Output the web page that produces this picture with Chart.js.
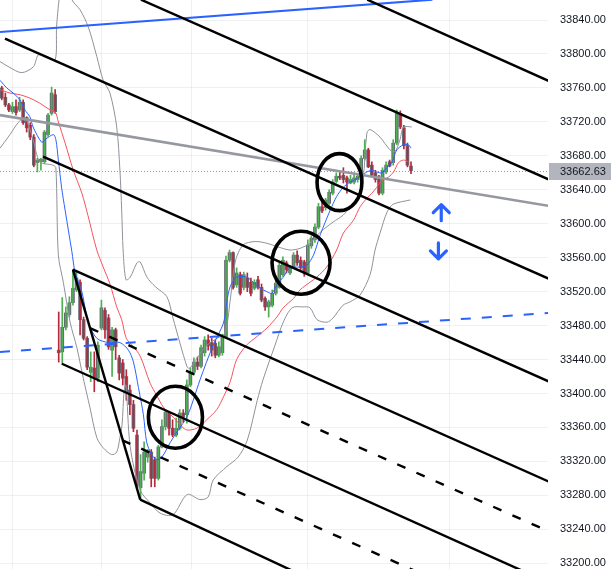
<!DOCTYPE html>
<html>
<head>
<meta charset="utf-8">
<script src="https://cdn.jsdelivr.net/npm/chart.js@4.4.0/dist/chart.umd.min.js"></script>
<style>
  html, body { margin: 0; padding: 0; background: #ffffff; }
  #wrap { width: 614px; height: 569px; }
</style>
</head>
<body>
<div id="wrap"><canvas id="myChart" width="614" height="569"></canvas></div>
<script>
// one value per bar
let opens = [33760,33749,33740,33732,33738,33734,33743,33725,33716,33702,33672,33673,33673,33705,33730,33752,
  33451,33449,33478,33493,33507,33522,33531,33487,33465,33425,33430,33418,33477,33498,33489,33451,33475,33442,33436,33420,
  33404,33387,33351,33289,33306,33325,33331,33322,33300,33337,33361,33377,33359,33351,33359,33377,33375,33410,33425,33437,
  33432,33448,33463,33460,33459,33445,33448,33467,33557,33566,33528,33540,33525,33536,33531,33524,33534,33525,33512,33502,
  33504,33518,33525,33540,33554,33542,33549,33563,33557,33555,33542,33574,33581,33596,33620,33619,33624,33636,33650,33656,
  33657,33654,33648,33649,33652,33655,33677,33687,33669,33660,33655,33636,33661,33673,33672,33695,33730,33713,33692,33668];
let highs = [33762,33754,33742,33743,33746,33749,33746,33726,33719,33705,33677,33677,33710,33730,33761,33758,
  33496,33513,33502,33514,33546,33543,33534,33490,33467,33449,33449,33461,33510,33501,33493,33478,33477,33445,33440,33428,
  33410,33392,33357,33328,33343,33334,33334,33325,33339,33369,33381,33379,33369,33371,33381,33381,33416,33430,33442,33443,
  33457,33467,33469,33465,33463,33461,33470,33562,33569,33567,33548,33543,33543,33542,33536,33534,33538,33529,33514,33510,
  33522,33534,33554,33561,33556,33551,33566,33568,33561,33557,33581,33586,33600,33624,33628,33630,33640,33652,33660,33663,
  33666,33656,33657,33660,33659,33680,33699,33689,33673,33663,33657,33666,33673,33675,33699,33734,33733,33716,33695,33673];
let lows = [33746,33738,33732,33730,33728,33732,33717,33708,33699,33667,33661,33663,33671,33703,33728,33730,
  33437,33434,33475,33490,33504,33520,33469,33463,33428,33414,33402,33414,33475,33465,33452,33420,33440,33416,33410,33392,
  33375,33355,33289,33275,33298,33319,33290,33290,33298,33336,33357,33351,33349,33349,33357,33366,33365,33408,33422,33428,
  33430,33444,33451,33444,33442,33443,33445,33465,33555,33523,33525,33516,33522,33520,33515,33522,33523,33508,33498,33490,
  33502,33516,33524,33538,33542,33540,33547,33551,33546,33538,33540,33571,33578,33594,33613,33616,33622,33634,33648,33652,
  33648,33636,33647,33647,33649,33654,33675,33666,33655,33649,33634,33634,33659,33667,33669,33693,33712,33688,33667,33659];
let closes = [33748,33740,33734,33738,33731,33743,33719,33713,33702,33669,33675,33676,33708,33728,33754,33732,
  33448,33478,33495,33507,33524,33536,33487,33465,33431,33431,33419,33457,33501,33475,33455,33475,33455,33424,33418,33401,
  33387,33359,33292,33308,33331,33331,33300,33300,33337,33361,33378,33359,33351,33359,33377,33372,33410,33425,33437,33432,
  33454,33463,33456,33451,33445,33455,33467,33557,33566,33525,33542,33518,33540,33525,33518,33531,33525,33510,33502,33508,
  33518,33530,33551,33557,33546,33549,33563,33554,33548,33542,33575,33583,33596,33620,33615,33628,33637,33649,33656,33654,
  33652,33649,33652,33654,33656,33677,33687,33667,33657,33652,33636,33663,33669,33668,33695,33730,33714,33692,33669,33662.63];

let lastPrice = 33662.63;

// indicator lines as [bar, price]
let blueMA = [[-0.5,33769],[1.4,33760],[3.2,33754],[5.1,33746],[6.5,33734],[7.9,33726],[8.8,33714],[11.2,33696],
  [12.1,33699],[14.5,33705],[15.2,33699],[15.9,33675],[16.8,33643],[17.8,33616],[19.7,33567],[20.6,33543],[22.5,33520],
  [24.3,33484],[26.7,33465],[30,33460],[33.2,33460],[35.6,33451],[37,33437],[38.4,33407],[39.8,33375],[40.7,33343],
  [42.1,33328],[43.5,33322],[45,33325],[47.3,33342],[49.6,33357],[52,33372],[53.8,33392],[55.7,33416],[59.4,33457],
  [62.3,33483],[63.2,33507],[64.2,33526],[66,33537],[68.8,33537],[70.7,33531],[72.6,33524],[74.5,33520],[75.9,33518],
  [77.3,33528],[79.1,33537],[81,33548],[83.8,33549],[85.7,33551],[87.6,33563],[89.5,33587],[92.3,33616],[94.1,33632],
  [96,33643],[97.9,33649],[99.8,33653],[101.2,33657],[102.6,33661],[104,33663],[105.4,33661],[106.8,33660],[108.2,33666],
  [109.6,33672],[111,33687],[112.9,33693],[114.3,33693],[115,33689]];
let redMA = [[-0.5,33758],[2.3,33754],[5.1,33752],[7.9,33748],[10.7,33742],[13.6,33734],[15,33732],[15.9,33720],
  [17.8,33695],[20.1,33663],[22.5,33636],[24.2,33610],[26.7,33569],[28.5,33549],[30.4,33529],[32.3,33502],[33.7,33487],
  [35,33465],[37,33455],[38.9,33444],[41.7,33412],[43.5,33398],[45.4,33384],[48.2,33372],[50.6,33361],[52,33357],
  [54.8,33359],[57.6,33369],[60.4,33381],[62.3,33396],[64.2,33414],[66,33440],[68.8,33457],[71.7,33467],[74.5,33477],
  [77.3,33490],[79.1,33501],[82,33512],[83.8,33522],[86.6,33531],[88.5,33537],[91.3,33549],[94.1,33569],[96,33589],
  [98.8,33604],[100.7,33620],[102.6,33630],[104,33636],[105.4,33643],[106.8,33651],[108.7,33655],[110.1,33661],
  [111.5,33672],[112.9,33675],[114.3,33673]];
let bandUpper = [[-0.5,33791],[2.3,33784],[5.6,33778],[8.9,33785],[10.3,33799],[12.7,33797],[15,33793],[15.4,33832],
  [16.1,33864],[17.2,33895],[18.6,33890],[19.7,33864],[22,33852],[24.3,33832],[26.7,33797],[28.5,33769],[30.4,33754],
  [32.3,33714],[33.2,33663],[33.7,33616],[34.1,33569],[34.9,33534],[36.1,33537],[38,33554],[38.9,33555],[40.8,33537],
  [43.1,33526],[46.4,33514],[48.1,33489],[52.1,33431],[52.9,33430],[54.9,33442],[57.7,33457],[60.5,33465],[62.7,33471],
  [64.2,33510],[65.6,33555],[67.8,33575],[71.2,33579],[74.5,33577],[77.4,33573],[81,33569],[83.8,33571],[86.6,33577],
  [89.5,33590],[93.1,33602],[95.9,33610],[97.9,33620],[99.8,33630],[101.5,33652],[102.6,33707],[103.5,33711],
  [106.3,33702],[109.1,33687],[110.5,33685],[111.9,33699],[112.9,33714],[115.2,33714]];
let bandLower = [[-0.5,33689],[2.3,33705],[4.6,33719],[6.5,33725],[8.8,33699],[10.7,33673],[14.4,33669],[15.2,33666],
  [15.9,33563],[17.3,33531],[19.2,33484],[21.1,33454],[22.9,33418],[24.8,33383],[26.7,33348],[28.5,33336],[30.9,33328],
  [32.3,33331],[33.2,33348],[33.8,33363],[34.4,33404],[34.9,33410],[36.1,33337],[38.9,33286],[41.7,33271],[44.5,33259],
  [48.1,33257],[52.1,33281],[55.7,33275],[58,33278],[59.4,33298],[63.3,33314],[66.4,33325],[69,33345],[71.8,33392],
  [73.4,33416],[76.8,33457],[79.1,33484],[81.6,33501],[84.7,33502],[86.6,33501],[88.6,33487],[91.4,33484],[93.1,33489],
  [95.9,33504],[97.9,33508],[100.7,33516],[103.5,33540],[104.9,33569],[106.3,33589],[108.3,33614],[110,33623],[114.8,33628]];

// drawings: [bar1, price1, bar2, price2]
let channelLines = [[102.7,33864,153.8,33768],[39.1,33864,153.8,33652],[0.9,33818,153.8,33535],
  [11.6,33679,153.8,33414],[20,33546,153.8,33296],[16.9,33435,153.8,33177],[38.9,33275,83.8,33187],
  [20,33546,38.9,33275]];
let dashedLines = [[24.8,33477,151.3,33242],[33.8,33345,120.4,33183]];
let blueLine = [-0.5,33826,121,33864];
let blueDashed = [-0.5,33449,153.8,33495];
let grayLine = [-0.5,33728,153.8,33621];
// ellipses: [bar, price, half width in bars, half height in price]
let circles = [[94.9,33649,6.3,33.6],[84.1,33554,8.15,37.1],[48.8,33372,7.6,36.5]];
let arrows = [[123.5,33613,"up"],[122.7,33568,"down"]];

let yTicks = [33200,33240,33280,33320,33360,33400,33440,33480,33520,33560,33600,33640,33680,33720,33760,33800,33840];
let xGridBars = [15.5,40.5,66,105.7,146.2];

let upColor = "#4caf50";
let downColor = "#b8283b";

function pts(arr) {
  return arr.map((p) => ({ x: p[0], y: p[1] }));
}
function seg(s) {
  return [{ x: s[0], y: s[1] }, { x: s[2], y: s[3] }];
}
function lineSet(data, color, width, dash, order) {
  return {
    type: "line",
    data: data,
    borderColor: color,
    borderWidth: width,
    borderDash: dash || [],
    pointRadius: 0,
    tension: 0,
    fill: false,
    clip: 0,
    order: order,
  };
}

let candleColors = closes.map((c, i) => (c >= opens[i] ? upColor : downColor));

let datasets = [];
channelLines.forEach((s) => datasets.push(lineSet(seg(s), "#000000", 2.4, null, 0)));
dashedLines.forEach((s) => datasets.push(lineSet(seg(s), "#000000", 2.4, [9, 12], 0)));
datasets.push(lineSet(seg(blueLine), "#2962ff", 2, null, 0));
datasets.push(lineSet(seg(blueDashed), "#2962ff", 2, [10, 11], 0));
datasets.push(lineSet(seg(grayLine), "#9598a1", 2.6, null, 0));
datasets.push(Object.assign(lineSet(pts(blueMA), "#2962ff", 1, null, 1), { tension: 0.3 }));
datasets.push(Object.assign(lineSet(pts(redMA), "#f7525f", 1, null, 1), { tension: 0.3 }));
datasets.push(Object.assign(lineSet(pts(bandUpper), "#8f929b", 1, null, 2), { tension: 0.3 }));
datasets.push(Object.assign(lineSet(pts(bandLower), "#8f929b", 1, null, 2), { tension: 0.3 }));
datasets.push({
  type: "bar",
  data: lows.map((l, i) => ({ x: i, y: [l, highs[i]] })),
  backgroundColor: candleColors,
  barThickness: 1,
  grouped: false,
  order: 3,
});
datasets.push({
  type: "bar",
  data: opens.map((o, i) => ({ x: i, y: [o, closes[i]] })),
  backgroundColor: "#666974",
  borderWidth: 0,
  barThickness: 3,
  minBarLength: 1,
  grouped: false,
  order: 4,
});

const extras = {
  id: "extras",
  beforeDatasetsDraw(chart) {
    const { ctx, chartArea, scales } = chart;
    const y = Math.round(scales.y.getPixelForValue(lastPrice)) + 0.5;
    ctx.save();
    ctx.strokeStyle = "#9598a1";
    ctx.lineWidth = 1;
    ctx.setLineDash([1, 2]);
    ctx.beginPath();
    ctx.moveTo(chartArea.left, y);
    ctx.lineTo(chartArea.right, y);
    ctx.stroke();
    ctx.restore();
  },
  afterDatasetsDraw(chart) {
    const { ctx, scales } = chart;
    const xs = scales.x;
    const ys = scales.y;
    ctx.save();
    ctx.strokeStyle = "#000000";
    ctx.lineWidth = 3.6;
    circles.forEach((c) => {
      const cx = xs.getPixelForValue(c[0]);
      const cy = ys.getPixelForValue(c[1]);
      const rx = Math.abs(xs.getPixelForValue(c[0] + c[2]) - cx);
      const ry = Math.abs(ys.getPixelForValue(c[1] + c[3]) - cy);
      ctx.beginPath();
      ctx.ellipse(cx, cy, rx, ry, 0, 0, Math.PI * 2);
      ctx.stroke();
    });
    ctx.strokeStyle = "#2962ff";
    ctx.lineWidth = 3.2;
    ctx.lineCap = "round";
    ctx.lineJoin = "round";
    arrows.forEach((a) => {
      const ax = xs.getPixelForValue(a[0]);
      const ay = ys.getPixelForValue(a[1]);
      const d = a[2] === "up" ? -1 : 1;
      ctx.beginPath();
      ctx.moveTo(ax, ay - d * 8);
      ctx.lineTo(ax, ay + d * 8);
      ctx.moveTo(ax - 8, ay);
      ctx.lineTo(ax, ay + d * 8);
      ctx.lineTo(ax + 8, ay);
      ctx.stroke();
    });
    ctx.restore();
  },
  afterDraw(chart) {
    const { ctx, chartArea, scales } = chart;
    const y = scales.y.getPixelForValue(lastPrice);
    ctx.save();
    ctx.fillStyle = "#b2b5be";
    ctx.fillRect(chartArea.right + 1, Math.round(y) - 8, 62, 17);
    ctx.fillStyle = "#131722";
    ctx.font = "11px 'Liberation Sans', Arial, sans-serif";
    ctx.textBaseline = "middle";
    ctx.fillText(lastPrice.toFixed(2), chartArea.right + 12, Math.round(y) + 0.5);
    ctx.restore();
  },
};

const config = {
  type: "bar",
  data: { datasets: datasets },
  options: {
    responsive: false,
    animation: false,
    devicePixelRatio: 1,
    layout: { padding: 0 },
    plugins: { legend: { display: false }, tooltip: { enabled: false } },
    scales: {
      x: {
        type: "linear",
        min: -0.5,
        max: 153.5,
        offset: false,
        afterBuildTicks: (s) => {
          s.ticks = xGridBars.map((v) => ({ value: v }));
        },
        afterFit: (s) => {
          s.height = 0;
        },
        ticks: { display: false },
        border: { display: false },
        grid: { color: "rgba(42,46,57,0.07)", drawTicks: false },
      },
      y: {
        type: "linear",
        position: "right",
        min: 33193.2,
        max: 33863.6,
        afterBuildTicks: (s) => {
          s.ticks = yTicks.map((v) => ({ value: v }));
        },
        afterFit: (s) => {
          s.width = 66;
          s.paddingTop = 0;
          s.paddingBottom = 0;
        },
        ticks: {
          padding: 12,
          color: "#131722",
          font: { family: "'Liberation Sans', Arial, sans-serif", size: 11 },
          callback: (v) => Number(v).toFixed(2),
        },
        border: { display: false },
        grid: { color: "rgba(42,46,57,0.07)", drawTicks: false },
      },
    },
  },
  plugins: [extras],
};

const myChart = new Chart(document.getElementById("myChart"), config);
</script>
</body>
</html>
